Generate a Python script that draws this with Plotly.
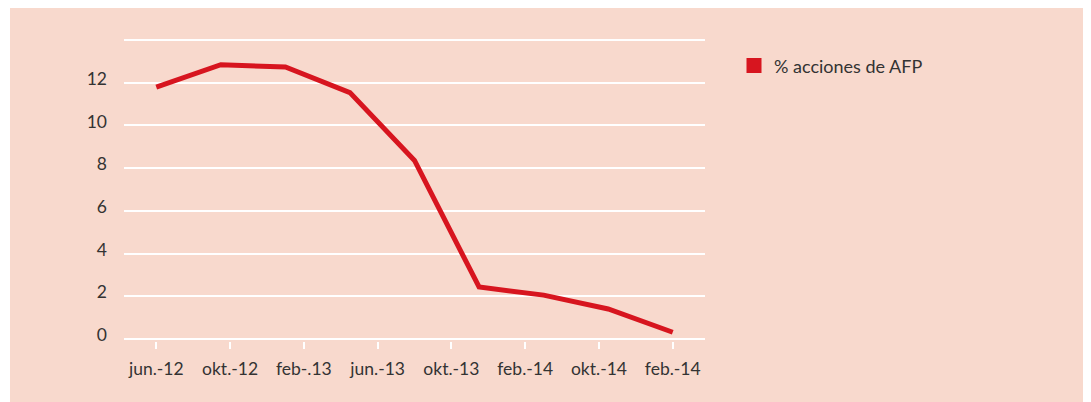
import plotly.graph_objects as go

# ---- data ----
periods = ["p1", "p2", "p3", "p4", "p5", "p6", "p7", "p8", "p9"]
values = [11.8, 12.85, 12.74, 11.54, 8.36, 2.43, 2.05, 1.40, 0.31]
tick_labels = ["jun.-12", "okt.-12", "feb-.13", "jun.-13", "okt.-13", "feb.-14", "okt.-14", "feb.-14"]
y_ticks = [0, 2, 4, 6, 8, 10, 12, 14]
y_tick_text = ["0", "2", "4", "6", "8", "10", "12", ""]
series_name = "% acciones de AFP"

# ---- styles ----
PINK = "#F8D9CD"
RED = "#D7151F"
TEXT = "#333333"
FONT = "Lato"
FS = 17.5

OFF = 8                  # page body margin
W, H = 1091 - OFF, 402 - OFF
L, R = 124 - OFF, 705 - OFF          # plot area left/right in figure px
T, B = 37.6 - OFF, 341.4 - OFF       # plot area top/bottom in figure px

x_idx = list(range(len(values)))
n = len(values) - 1
tick_pos = [i * n / (len(tick_labels) - 1) for i in range(len(tick_labels))]

fig = go.Figure()
fig.add_trace(go.Scatter(
    x=x_idx, y=values, mode="lines",
    line=dict(color=RED, width=5),
    showlegend=False, hoverinfo="skip",
))
fig.add_trace(go.Scatter(
    x=[None], y=[None], mode="markers", name=series_name,
    marker=dict(symbol="square", size=15, color=RED),
    showlegend=True,
))

pw = R - L
ph = B - T
fig.add_shape(
    type="rect", xref="paper", yref="paper", layer="below",
    x0=(2 - L) / pw, x1=(W + 5 - L) / pw,
    y0=(B - (H + 5)) / ph, y1=(B + 5) / ph,
    fillcolor=PINK, line=dict(width=0),
)

fig.update_layout(
    width=W, height=H,
    margin=dict(l=L, r=W - R, t=T, b=H - B, pad=0),
    paper_bgcolor="white",
    plot_bgcolor="rgba(0,0,0,0)",
    font=dict(family=FONT, size=FS, color=TEXT),
    xaxis=dict(
        range=[-0.5, n + 0.5],
        tickmode="array", tickvals=tick_pos, ticktext=tick_labels,
        showgrid=False, zeroline=False, showline=False,
        ticks="outside", ticklen=7, tickwidth=2, tickcolor="white",
        ticklabelstandoff=5,
        tickfont=dict(family=FONT, size=FS, color=TEXT),
    ),
    yaxis=dict(
        range=[-0.1, 14.1],
        tickmode="array", tickvals=y_ticks, ticktext=y_tick_text,
        showgrid=True, gridcolor="white", gridwidth=2,
        zeroline=False, showline=False, ticks="",
        ticklabelstandoff=16, ticklabelshift=-4,
        tickfont=dict(family=FONT, size=FS, color=TEXT),
    ),
    legend=dict(
        x=(726 - L) / pw, y=(B - 39) / ph, xanchor="left", yanchor="top",
        bgcolor="rgba(0,0,0,0)", borderwidth=0,
        font=dict(family=FONT, size=18, color=TEXT),
    ),
)

fig.write_html("out.html")
